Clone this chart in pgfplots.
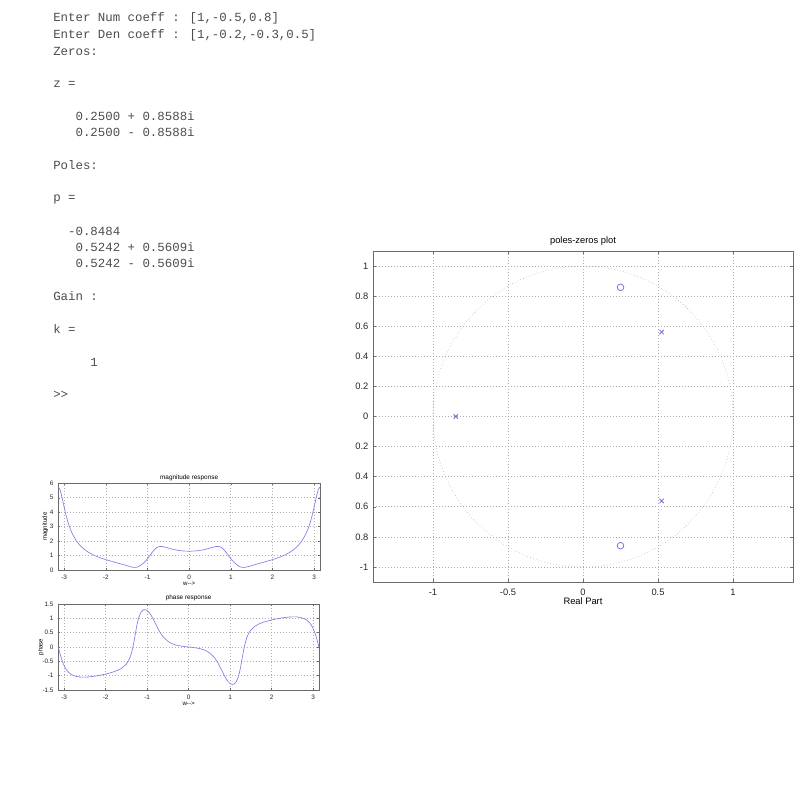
\documentclass[border=0pt]{standalone}
\usepackage{fontspec}
\setmainfont{Liberation Sans}
\newfontfamily\mono{Liberation Mono}
\usepackage{pgfplots}
\pgfplotsset{compat=1.18}
\usepackage{pgfplotstable}
\definecolor{mlblue}{rgb}{0.42,0.42,0.9}
\definecolor{curve}{rgb}{0.5,0.5,0.9}
\definecolor{axgray}{rgb}{0.42,0.42,0.42}
\definecolor{txt}{rgb}{0.3,0.3,0.3}

\pgfplotstableread{
w m p
-3.1416 5.7500 0
-3.10 5.5739 -0.2303
-3.05 5.0206 -0.4699
-3.00 4.3524 -0.6517
-2.95 3.7372 -0.7815
-2.90 3.2246 -0.8722
-2.85 2.8106 -0.9355
-2.80 2.4769 -0.9795
-2.70 1.9827 -1.0299
-2.60 1.6394 -1.0498
-2.50 1.3883 -1.0518
-2.40 1.1963 -1.0425
-2.30 1.0436 -1.0253
-2.20 0.9178 -1.0027
-2.10 0.8107 -0.9752
-2.00 0.7164 -0.9433
-1.90 0.6305 -0.9064
-1.80 0.5493 -0.8623
-1.70 0.4697 -0.8064
-1.60 0.3889 -0.7273
-1.50 0.3051 -0.5947
-1.45 0.2627 -0.4849
-1.40 0.2225 -0.3174
-1.35 0.1903 -0.0551
-1.325 0.1806 0.1210
-1.30 0.1779 0.3217
-1.275 0.1840 0.5312
-1.25 0.1997 0.7281
-1.225 0.2250 0.8966
-1.20 0.2591 1.0309
-1.15 0.3502 1.2058
-1.10 0.4688 1.2880
-1.05 0.6138 1.3060
-1.00 0.7838 1.2753
-0.95 0.9738 1.2039
-0.90 1.1712 1.0980
-0.85 1.3546 0.9659
-0.80 1.5000 0.8199
-0.75 1.5916 0.6742
-0.70 1.6299 0.5410
-0.65 1.6276 0.4268
-0.60 1.6005 0.3330
-0.50 1.5185 0.1991
-0.40 1.4386 0.1168
-0.30 1.3762 0.0666
-0.20 1.3331 0.0356
-0.10 1.3082 0.0154
0 1.3000 0
0.10 1.3082 -0.0154
0.20 1.3331 -0.0356
0.30 1.3762 -0.0666
0.40 1.4386 -0.1168
0.50 1.5185 -0.1991
0.60 1.6005 -0.3330
0.65 1.6276 -0.4268
0.70 1.6299 -0.5410
0.75 1.5916 -0.6742
0.80 1.5000 -0.8199
0.85 1.3546 -0.9659
0.90 1.1712 -1.0980
0.95 0.9738 -1.2039
1.00 0.7838 -1.2753
1.05 0.6138 -1.3060
1.10 0.4688 -1.2880
1.15 0.3502 -1.2058
1.20 0.2591 -1.0309
1.225 0.2250 -0.8966
1.25 0.1997 -0.7281
1.275 0.1840 -0.5312
1.30 0.1779 -0.3217
1.325 0.1806 -0.1210
1.35 0.1903 0.0551
1.40 0.2225 0.3174
1.45 0.2627 0.4849
1.50 0.3051 0.5947
1.60 0.3889 0.7273
1.70 0.4697 0.8064
1.80 0.5493 0.8623
1.90 0.6305 0.9064
2.00 0.7164 0.9433
2.10 0.8107 0.9752
2.20 0.9178 1.0027
2.30 1.0436 1.0253
2.40 1.1963 1.0425
2.50 1.3883 1.0518
2.60 1.6394 1.0498
2.70 1.9827 1.0299
2.80 2.4769 0.9795
2.85 2.8106 0.9355
2.90 3.2246 0.8722
2.95 3.7372 0.7815
3.00 4.3524 0.6517
3.05 5.0206 0.4699
3.10 5.5739 0.2303
3.1416 5.7500 0
}\resp

\pgfplotstableread{
x y
0.25 0.8588
0.25 -0.8588
}\zeros

\pgfplotstableread{
x y
-0.8484 0
0.5242 0.5609
0.5242 -0.5609
}\poles

\pgfplotsset{
  mlstyle/.style={
    scale only axis, anchor=south west,
    axis line style={axgray, line width=0.5pt},
    tick style={axgray, line width=0.4pt},
    tick align=inside,
    grid=major,
    major grid style={dash pattern=on 0.45pt off 1.8pt, gray!65, line width=0.45pt},
    /pgf/number format/assume math mode=true,
    ticklabel style={text=black!85},
  },
  small/.style={
    mlstyle,
    major tick length=1.6pt,
    tick label style={font=\fontsize{4.8}{5.5}\selectfont},
    label style={font=\fontsize{4.6}{5.2}\selectfont},
    title style={font=\fontsize{4.8}{5.5}\selectfont, at={(axis description cs:0.5,1)}, anchor=base},
    xmin=-3.1416, xmax=3.1416,
    xtick={-3,-2,-1,0,1,2,3},
    xticklabel style={yshift=-0.5pt},
    xlabel style={at={(axis description cs:0.5,0)}, anchor=base, yshift=-11.6pt},
  },
}

\begin{document}
\begin{tikzpicture}
\path[use as bounding box] (0,0) rectangle (600pt,600pt);

\begin{scope}[every node/.style={anchor=base west, inner sep=0pt, font=\mono\fontsize{9.3pt}{11pt}\selectfont, text=txt}]
\node at (39.75pt,583.5pt) {Enter Num coeff : [1,-0.5,0.8]};
\node at (39.75pt,570.98pt) {Enter Den coeff : [1,-0.2,-0.3,0.5]};
\node at (39.75pt,558.45pt) {Zeros:};
\node at (39.75pt,534.5pt) {z =};
\node at (39.75pt,509.25pt) {\hphantom{000}0.2500 + 0.8588i};
\node at (39.75pt,497.25pt) {\hphantom{000}0.2500 - 0.8588i};
\node at (39.75pt,472.73pt) {Poles:};
\node at (39.75pt,448.5pt) {p =};
\node at (39.75pt,423.45pt) {\hphantom{00}-0.8484};
\node at (39.75pt,411.45pt) {\hphantom{000}0.5242 + 0.5609i};
\node at (39.75pt,399pt) {\hphantom{000}0.5242 - 0.5609i};
\node at (39.75pt,374.25pt) {Gain :};
\node at (39.75pt,350.2pt) {k =};
\node at (39.75pt,325.2pt) {\hphantom{00000}1};
\node at (39.75pt,301.4pt) {>>};
\end{scope}

% poles-zeros plot
\begin{axis}[mlstyle,
  at={(279.75pt,163.5pt)}, width=315pt, height=248.25pt,
  xmin=-1.4, xmax=1.4, ymin=-1.1, ymax=1.1,
  major tick length=2.4pt,
  xtick={-1,-0.5,0,0.5,1},
  ytick={-1,-0.8,-0.6,-0.4,-0.2,0,0.2,0.4,0.6,0.8,1},
  yticklabels={-1,0.8,0.6,0.4,0.2,0,0.2,0.4,0.6,0.8,1},
  tick label style={font=\fontsize{7}{8}\selectfont},
  xticklabel style={yshift=-1.5pt},
  title={poles-zeros plot},
  title style={font=\fontsize{7}{8}\selectfont, at={(axis description cs:0.5,1)}, anchor=base, yshift=-0.4pt},
  xlabel={Real Part},
  xlabel style={font=\fontsize{7}{8}\selectfont, at={(axis description cs:0.5,0)}, anchor=base, yshift=-16.9pt},
]
\draw[dash pattern=on 0.45pt off 1.8pt, gray!60, line width=0.45pt] (axis cs:0,0) ellipse [x radius=1, y radius=1];
\addplot[only marks, mark=o, mlblue, mark size=2.5pt, mark options={line width=0.55pt}] table[x=x,y=y] {\zeros};
\addplot[only marks, mark=x, mlblue, mark size=2.3pt, mark options={line width=0.55pt}] table[x=x,y=y] {\poles};
\end{axis}

% magnitude response
\begin{axis}[small,
  at={(43.7pt,172.5pt)}, width=196.3pt, height=65pt,
  ymin=0, ymax=6, ytick={0,1,2,3,4,5,6},
  title={magnitude response},
  title style={yshift=-2.8pt},
  xlabel={w-{}-{}>},
  ylabel={magnitude},
  ylabel style={at={(axis description cs:-0.05,0.5)}, anchor=center},
]
\addplot[curve, line width=0.5pt] table[x=w,y=m] {\resp};
\end{axis}

% phase response
\begin{axis}[small,
  at={(43.7pt,82.5pt)}, width=195.5pt, height=64.5pt,
  ymin=-1.5, ymax=1.5, ytick={-1.5,-1,-0.5,0,0.5,1,1.5},
  title={phase response},
  title style={yshift=-2.6pt},
  xlabel={w-{}-{}>},
  ylabel={phase},
  ylabel style={at={(axis description cs:-0.066,0.5)}, anchor=center},
]
\addplot[curve, line width=0.5pt] table[x=w,y=p] {\resp};
\end{axis}
\end{tikzpicture}
\end{document}
